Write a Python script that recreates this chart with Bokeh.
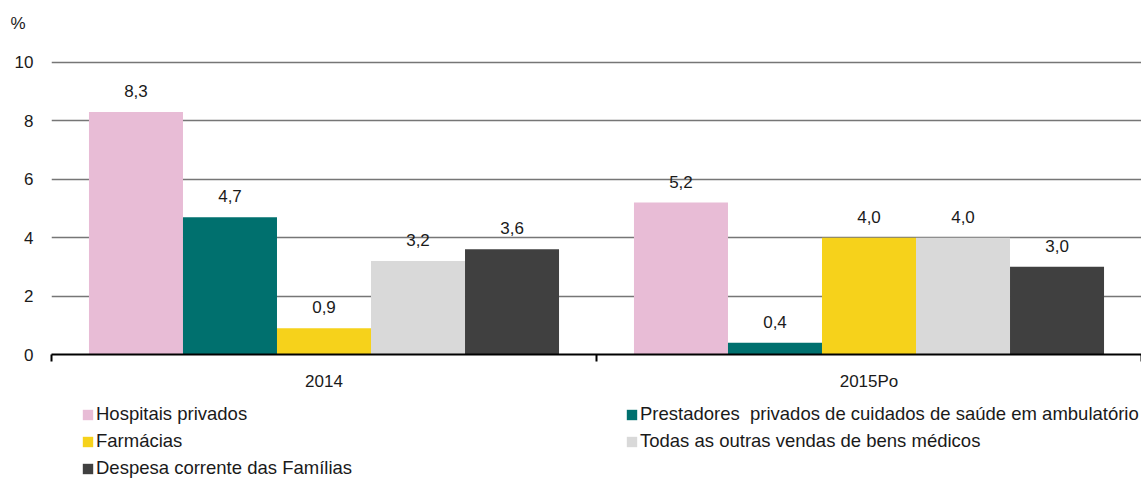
from bokeh.plotting import figure
from bokeh.models import (Range1d, FixedTicker, Legend, LegendItem,
                          ColumnDataSource)
from bokeh.layouts import column
from bokeh.core.properties import value
from bokeh.embed import file_html
from bokeh.resources import INLINE

# ---- data ----
years = ["2014", "2015Po"]
series_names = [
    "Hospitais privados",
    "Prestadores  privados de cuidados de saúde em ambulatório",
    "Farmácias",
    "Todas as outras vendas de bens médicos",
    "Despesa corrente das Famílias",
]
hospitais = [8.3, 5.2]
prestadores = [4.7, 0.4]
farmacias = [0.9, 4.0]
todas = [3.2, 4.0]
despesa = [3.6, 3.0]
series_values = [hospitais, prestadores, farmacias, todas, despesa]
colors = ["#E8BCD6", "#00706E", "#F6D21B", "#D9D9D9", "#404040"]
y_ticks = [0, 2, 4, 6, 8, 10]
unit_label = "%"

FONT = "Liberation Sans"
TXT = "#1a1a1a"

p = figure(width=1141, height=400, output_backend="svg", toolbar_location=None,
           x_range=Range1d(0, len(years)), y_range=Range1d(0, 10.75),
           min_border_left=51, min_border_right=0, min_border_top=40,
           min_border_bottom=46, title=unit_label)
p.outline_line_color = None
p.background_fill_color = "white"
p.border_fill_color = "white"
p.title.align = "left"
p.title.offset = -41
p.title.text_font = FONT
p.title.text_font_size = "17px"
p.title.text_font_style = "normal"
p.title.text_color = TXT
p.title.standoff = 15

bar_w = 0.1725
n = len(series_names)
for i, (name, vals, col) in enumerate(zip(series_names, series_values, colors)):
    xs = [k + 0.5 + (i - (n - 1) / 2) * bar_w for k in range(len(years))]
    src = ColumnDataSource(dict(x=xs, top=vals,
                                lab=[f"{v:.1f}".replace(".", ",") for v in vals]))
    p.vbar(x="x", top="top", width=bar_w, source=src, fill_color=col,
           line_color=None)
    p.text(x="x", y="top", text="lab", source=src, text_align="center",
           text_baseline="alphabetic", y_offset=-21,
           text_font=value(FONT), text_font_size="17px", text_color=TXT)

# axes
xa = p.xaxis[0]
xa.ticker = FixedTicker(ticks=[k + 0.5 for k in range(len(years))],
                        minor_ticks=list(range(len(years) + 1)))
xa.major_label_overrides = {k + 0.5: y for k, y in enumerate(years)}
xa.major_tick_line_color = None
xa.major_tick_out = 0
xa.minor_tick_line_color = "black"
xa.minor_tick_line_width = 2
xa.minor_tick_out = 7
xa.minor_tick_in = 0
xa.axis_line_color = "black"
xa.axis_line_width = 2
xa.major_label_standoff = 10
xa.major_label_text_font = FONT
xa.major_label_text_font_size = "17px"
xa.major_label_text_color = TXT

ya = p.yaxis[0]
ya.ticker = FixedTicker(ticks=y_ticks)
ya.axis_line_color = None
ya.major_tick_line_color = None
ya.minor_tick_line_color = None
ya.major_tick_out = 0
ya.major_label_standoff = 18
ya.major_label_text_font = FONT
ya.major_label_text_font_size = "17px"
ya.major_label_text_color = TXT

p.xgrid.grid_line_color = None
p.ygrid.ticker = FixedTicker(ticks=y_ticks)
p.ygrid.grid_line_color = "#767676"
p.ygrid.grid_line_width = 1.6

# legend figure below (its frame is aligned with the main frame)
lf = figure(width=1141, height=79, output_backend="svg", toolbar_location=None,
            x_range=Range1d(0, 1), y_range=Range1d(0, 1),
            min_border=0)
lf.outline_line_color = None
lf.axis.visible = False
lf.grid.visible = False
# zero-height proxy renderers that only feed the legend swatches
proxies = [lf.vbar(x=[0.5], top=[0], width=0.1, fill_color=c, line_color=None)
           for c in colors]


def make_legend(idx, loc):
    lg = Legend(items=[LegendItem(label=series_names[i], renderers=[proxies[i]])
                       for i in idx],
                location=loc, orientation="vertical",
                glyph_width=13, glyph_height=13, label_standoff=2,
                label_height=24, spacing=3, padding=0, margin=0,
                label_text_font=FONT, label_text_font_size="18.5px",
                label_text_color=TXT, background_fill_alpha=0,
                border_line_color=None)
    lf.add_layout(lg, "center")


make_legend([0, 2, 4], (30, -1))
make_legend([1, 3], (574, 26))

layout = column(p, lf, spacing=0)
open("out.html", "w").write(file_html(layout, INLINE))
